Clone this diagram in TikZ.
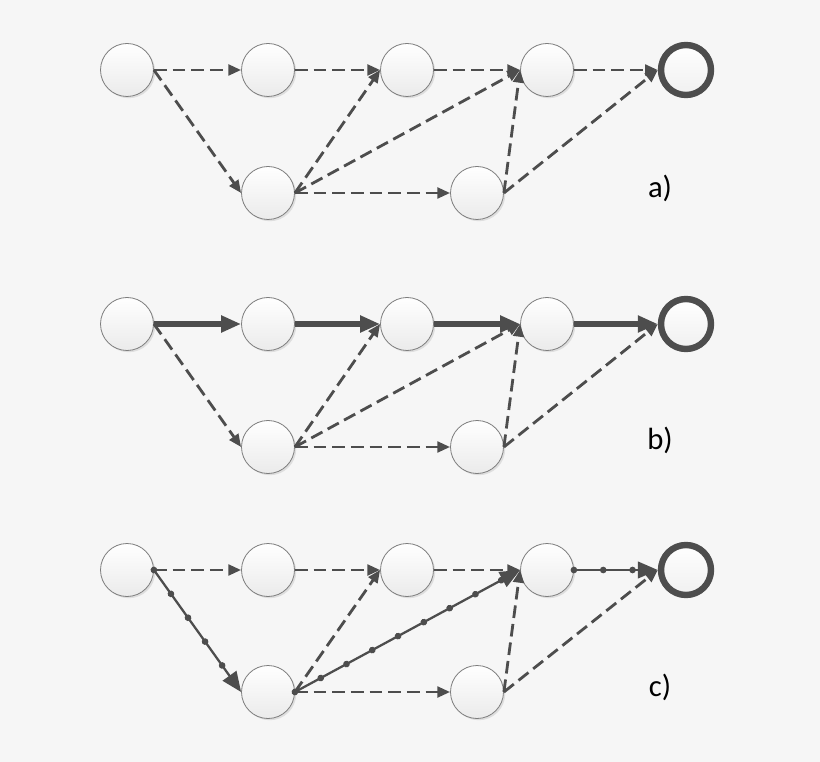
\documentclass[tikz,border=0pt]{standalone}
\usepackage{fontspec}
\setmainfont{Carlito}
\usetikzlibrary{arrows.meta,decorations.markings,shadows}
\definecolor{bg}{RGB}{246,246,246}
\definecolor{edge}{RGB}{77,77,77}
\definecolor{nodeline}{RGB}{125,125,125}
\tikzset{
 ev/.style={circle, minimum size=39.75pt, inner sep=0pt, draw=nodeline, line width=0.6pt,
   top color=white, bottom color=black!8,
   drop shadow={shadow xshift=1.3pt, shadow yshift=-1.3pt, fill=black!13, opacity=1}},
 fin/.style={circle, minimum size=37.5pt, inner sep=0pt, draw=edge, line width=4.8pt,
   top color=white, bottom color=black!6,
   drop shadow={shadow xshift=1.3pt, shadow yshift=-1.3pt, fill=black!13, opacity=1}},
 dsh/.style={draw=edge, line width=2.1pt, dash pattern=on 9.5pt off 4.5pt,
   -{Triangle[length=9.5pt,width=8pt]}},
 thk/.style={draw=edge, line width=3.8pt, -{Triangle[length=15pt,width=12pt]}},
 dotp/.style={draw=edge, line width=1.7pt, -{Triangle[length=15pt,width=12.5pt]},
   postaction={decorate},
   decoration={markings, mark=between positions 0 and -15pt step 22pt with {\fill[edge] (0,0) circle (2.5pt);}}},
 lbl/.style={font=\fontsize{23}{27}\selectfont, text=black, inner sep=0pt}
}
\begin{document}
\begin{tikzpicture}[x=0.75pt,y=-0.75pt]
\fill[bg] (0,0) rectangle (820,762);
\useasboundingbox (0,0) rectangle (820,762);

% ---------- a) ----------
\node[ev]  (a1) at (127,70) {};
\node[ev]  (a2) at (268,70) {};
\node[ev]  (a3) at (407,70) {};
\node[ev]  (a4) at (547,70) {};
\node[fin] (a5) at (686,70) {};
\node[ev]  (a6) at (268,193) {};
\node[ev]  (a7) at (477,193) {};
\node[lbl] (la) at (660,188) {a)};
\draw[dsh] (a1.east) -- (a2.west);
\draw[dsh] (a1.east) -- (a6.west);
\draw[dsh] (a2.east) -- (a3.west);
\draw[dsh] (a6.east) -- (a3.west);
\draw[dsh] (a6.east) -- (a4.west);
\draw[dsh] (a6.east) -- (a7.west);
\draw[dsh] (a3.east) -- (a4.west);
\draw[dsh] (a7.east) -- (a4.west);
\draw[dsh] (a4.east) -- (a5.west);
\draw[dsh] (a7.east) -- (a5.west);

% ---------- b) ----------
\node[ev]  (b1) at (127,324) {};
\node[ev]  (b2) at (268,324) {};
\node[ev]  (b3) at (407,324) {};
\node[ev]  (b4) at (547,324) {};
\node[fin] (b5) at (686,324) {};
\node[ev]  (b6) at (268,447) {};
\node[ev]  (b7) at (477,447) {};
\node[lbl] (lb) at (660,440) {b)};
\draw[dsh] (b1.east) -- (b6.west);
\draw[dsh] (b6.east) -- (b3.west);
\draw[dsh] (b6.east) -- (b4.west);
\draw[dsh] (b6.east) -- (b7.west);
\draw[dsh] (b7.east) -- (b4.west);
\draw[dsh] (b7.east) -- (b5.west);
\draw[thk] (b1.east) -- (b2.west);
\draw[thk] (b2.east) -- (b3.west);
\draw[thk] (b3.east) -- (b4.west);
\draw[thk] (b4.east) -- (b5.west);

% ---------- c) ----------
\node[ev]  (c1) at (127,570) {};
\node[ev]  (c2) at (268,570) {};
\node[ev]  (c3) at (407,570) {};
\node[ev]  (c4) at (547,570) {};
\node[fin] (c5) at (686,570) {};
\node[ev]  (c6) at (268,692) {};
\node[ev]  (c7) at (477,692) {};
\node[lbl] (lc) at (660,687) {c)};
\draw[dsh] (c1.east) -- (c2.west);
\draw[dsh] (c2.east) -- (c3.west);
\draw[dsh] (c6.east) -- (c3.west);
\draw[dsh] (c6.east) -- (c7.west);
\draw[dsh] (c3.east) -- (c4.west);
\draw[dsh] (c7.east) -- (c4.west);
\draw[dsh] (c7.east) -- (c5.west);
\draw[dotp] (c1.east) -- (c6.west);
\draw[dotp] (c6.east) -- (c4.west);
\draw[dotp] (c4.east) -- (c5.west);
\end{tikzpicture}
\end{document}
